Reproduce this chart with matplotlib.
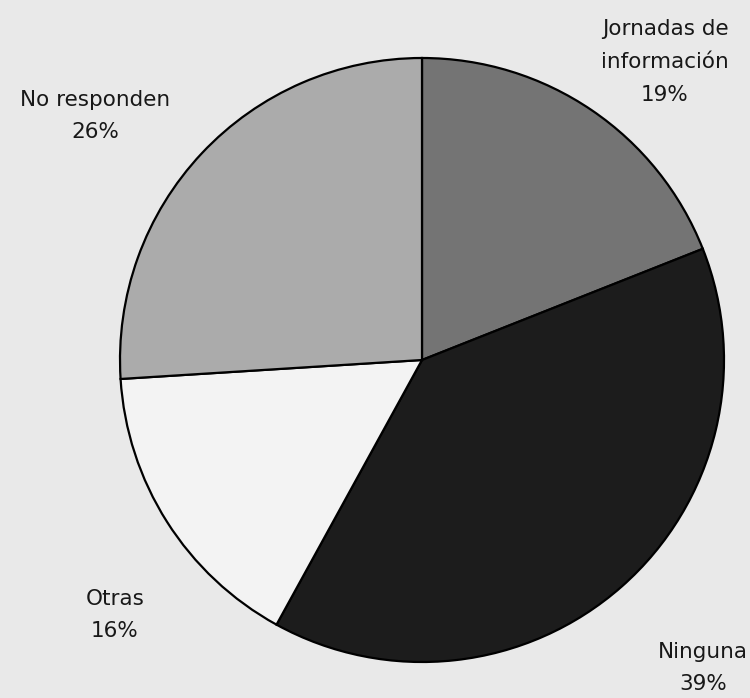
import matplotlib.pyplot as plt

labels = ["Jornadas de\ninformación", "Ninguna", "Otras", "No responden"]
shares = [19, 39, 16, 26]
colors = ["#747474", "#1c1c1c", "#f3f3f3", "#ababab"]

# label anchor positions (pixels, from the top-left)
label_pos = [(665, 62), (703, 668), (115, 615), (95, 116)]

plt.rcParams['font.family'] = ['DejaVu Sans']

fig = plt.figure(figsize=(7.5, 6.98), dpi=100, facecolor="#e9e9e9")
ax = fig.add_axes([0, 0, 1, 1])

ax.pie(shares, colors=colors, startangle=90, counterclock=False,
       center=(422, 698 - 360), radius=302, frame=True,
       wedgeprops=dict(edgecolor="black", linewidth=1.6))
ax.set_xlim(0, 750)
ax.set_ylim(0, 698)
ax.set_aspect("equal")
ax.axis("off")

for lab, val, (x, y) in zip(labels, shares, label_pos):
    ax.text(x, 698 - y, f"{lab}\n{val}%", ha="center", va="center",
            fontsize=15.5, color="#181818", linespacing=1.8)

fig.savefig("out.png", dpi=100, facecolor=fig.get_facecolor())
